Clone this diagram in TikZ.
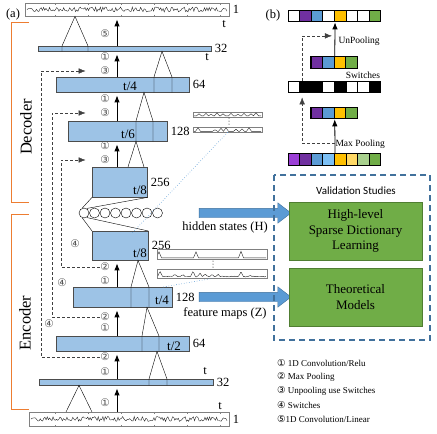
\documentclass[tikz,border=0pt]{standalone}
\usepackage{fontspec}
\setmainfont{Liberation Serif}
\newfontfamily\circfont{DejaVu Sans}
\newfontfamily\valfont{Carlito}
\usepackage{xcolor}
\usetikzlibrary{arrows.meta}
\usetikzlibrary{shapes.arrows}
\usetikzlibrary{calc}
\newcommand{\cn}[1]{{\circfont\fontsize{9.5}{9.5}\selectfont #1}}
\definecolor{layblue}{HTML}{9DC3E6}
\definecolor{arrblue}{HTML}{5B9BD5}
\definecolor{arredge}{HTML}{41719C}
\definecolor{boxgreen}{HTML}{70AD47}
\definecolor{greenedge}{HTML}{507E32}
\definecolor{brkorange}{HTML}{ED7D31}
\definecolor{cviolet}{HTML}{9B3FD6}
\definecolor{cpurple}{HTML}{7030A0}
\definecolor{cblue}{HTML}{5B9BD5}
\definecolor{clblue}{HTML}{7CC0F5}
\definecolor{cyellow}{HTML}{FFC000}
\definecolor{clyellow}{HTML}{FFD966}
\definecolor{clgreen}{HTML}{A9D18E}
\definecolor{cgreen}{HTML}{70AD47}

\begin{document}
\begin{tikzpicture}[x=1pt, y=-1pt, font=\fontsize{12.5}{15}\selectfont,
      >={Latex[length=7pt,width=5.5pt]},
      declare function={bp(\u,\w)=max(0,1-abs(\u-\w)/2.5);},
      lay/.style={draw=black!70, fill=layblue, inner sep=0pt, anchor=north west},
      sigbox/.style={draw=black!50, inner sep=0pt, anchor=north west},
      sig/.style={black!85, line width=0.4pt},
      num/.style={inner sep=0.5pt, text=black!70, font=\circfont\fontsize{10.5}{10.5}\selectfont},
      up/.style={->, line width=0.9pt, shorten >=3pt},
      sw/.style={->, black!75, dash pattern=on 3pt off 2pt},
      cell/.style={draw, line width=1.1pt, minimum size=11.6pt, inner sep=0pt},
      bigarrow/.style={single arrow, draw=arredge, fill=arrblue, minimum height=92pt,
        inner xsep=0pt, inner ysep=4.5pt, single arrow head extend=5.5pt, single arrow tip angle=75},
      studybox/.style={draw=greenedge, fill=boxgreen, line width=0.8pt, minimum width=133pt,
        minimum height=58pt, align=center, font=\fontsize{13}{15.5}\selectfont},
      lg/.style={anchor=west, inner sep=0pt, font=\fontsize{9}{11}\selectfont}]
      \useasboundingbox (0,0) rectangle (437,434);

      \node[sigbox, minimum width=204pt, minimum height=13pt] (sd) at (25,3) {};
      \node[sigbox, minimum width=200pt, minimum height=14pt] (se) at (29,412) {};
      \pgfmathsetseed{11}
      \draw[sig] plot[domain=27:227, samples=170] (\x,{9.5+2.5*rand});
      \pgfmathsetseed{11}
      \draw[sig] plot[domain=31:227, samples=170] (\x,{419+2.5*rand});
      \foreach \x in {55,88,...,220}
        \draw[black!50] (\x,0 |- sd.north) -- ++(0,1.5) (\x,0 |- sd.south) -- ++(0,-1.5)
          (\x,0 |- se.north) -- ++(0,1.5) (\x,0 |- se.south) -- ++(0,-1.5);
      \node at (13,14) {(a)};
      \node[right] at (sd.east) {1};
      \node[right] at (se.east) {1};
      \node at (224,24) {t};
      \node at (220,406) {t};

      \node[lay, minimum width=173pt, minimum height=5pt] (d32) at (38,46) {};
      \node[lay, minimum width=133pt, minimum height=15pt] (d64) at (56,77) {};
      \node[lay, minimum width=99pt, minimum height=20pt] (d128) at (68,121) {};
      \node[lay, minimum width=55pt, minimum height=30pt] (d256) at (92,167) {};
      \node[lay, minimum width=56pt, minimum height=29pt] (e256) at (92,231) {};
      \node[lay, minimum width=99pt, minimum height=20pt] (e128) at (73,287) {};
      \node[lay, minimum width=133pt, minimum height=15pt] (e64) at (56,336) {};
      \node[lay, minimum width=174pt, minimum height=6pt] (e32) at (39,379) {};
      \foreach \n/\t in {d32/32, d64/64, d128/128, d256/256, e256/256, e128/128, e64/64, e32/32}
        \node[right] at (\n.east) {\t};
      \node at (207,57) {t};
      \node at (205,371) {t};
      \node[font=\fontsize{13}{15}\selectfont] at (130,86) {t/4};
      \node[font=\fontsize{13}{15}\selectfont] at (128,134) {t/6};
      \node[font=\fontsize{13}{15}\selectfont] at (140,190) {t/8};
      \node[font=\fontsize{13}{15}\selectfont] at (140,253) {t/8};
      \node[font=\fontsize{13}{15}\selectfont] at (162,300) {t/4};
      \node[font=\fontsize{13}{15}\selectfont] at (174,346) {t/2};

      \foreach \i in {1,...,8}
        \node[draw, circle, minimum size=10pt, inner sep=0pt] (c\i) at ({73.5+10.5*\i},213) {};
      \draw (c1.110) -- (d256.south west) (c1.60) -- (d256.south east);
      \draw (c1.-110) -- (e256.north west) (c1.-60) -- (e256.north east);

      \foreach \lx/\ax/\rx/\hi/\lo/\v in {62/75/88/sd/d32/south, 154/162/172/d32/d64/south,
          136/144/153/d64/d128/south, 128/136/144/d128/d256/north,
          131/138/149/e256/e128/south, 142/147/159/e128/e64/south,
          149/157/167/e64/e32/south, 66/79/92/e32/se/north}
        \draw (\lx,0 |- \lo.\v) -- (\lx,0 |- \lo.north) -- (\ax,0 |- \hi.south)
          -- (\rx,0 |- \lo.north) -- (\rx,0 |- \lo.\v);
      \foreach \lo/\hi in {se/e32, e32/e64, e64/e128, e128/e256, d256/d128, d128/d64, d64/d32, d32/sd}
        \draw[up] (117,0 |- \lo.north) -- (117,0 |- \hi.south);

      \node[num] (k5) at (105,34) {⑤};
      \node[num] at (105,57) {①};
      \node[num] (u1) at (105,71) {③};
      \node[num] at (105,99) {①};
      \node[num] (u2) at (105,113) {③};
      \node[num] at (105,146) {①};
      \node[num] (u3) at (105,160) {③};
      \node[num] (p3) at (105,267) {②};
      \node[num] at (105,281) {①};
      \node[num] (p2) at (105,317) {②};
      \node[num] at (105,328) {①};
      \node[num] (p1) at (105,357) {②};
      \node[num] at (105,372) {①};
      \node[num] at (105,403) {①};
      \node[num] at (75,244) {④};
      \node[num] at (62,283) {④};
      \node[num] at (49,324) {④};
      \draw[sw, shorten >=14pt] (p1.west) -- (41,0 |- p1) |- (u1.west);
      \draw[sw, shorten >=14pt] (p2.west) -- (52,0 |- p2) |- (u2.west);
      \draw[sw, shorten >=14pt] (p3.west) -- (61,0 |- p3) |- (u3.west);

      \draw[brkorange, line width=0.9pt] (29,22) -| (11,202) -- (29,202);
      \draw[brkorange, line width=0.9pt] (29,214) -| (11,409) -- (29,409);
      \node[rotate=90, font=\fontsize{16.5}{18}\selectfont] at (26,127) {Decoder};
      \node[rotate=90, font=\fontsize{16.5}{18}\selectfont] at (25,323) {Encoder};

      \node[sigbox, minimum width=69pt, minimum height=4.5pt] (fa) at (193,112) {};
      \node[sigbox, minimum width=69pt, minimum height=4.5pt] (fb) at (193,127.3) {};
      \node[sigbox, minimum width=110pt, minimum height=10pt] (fc) at (157,249) {};
      \node[sigbox, minimum width=110pt, minimum height=9pt] (fd) at (157,269) {};
      \draw[sig] plot[domain=194:261, samples=135] (\x,{115.8-2*bp(\x,199)-2.5*bp(\x,206)
        -1.5*bp(\x,211)-3*bp(\x,217)-2*bp(\x,223)-2.5*bp(\x,231)-1.5*bp(\x,238)
        -2.5*bp(\x,244)-2*bp(\x,251)-3*bp(\x,256)});
      \draw[sig] plot[domain=194:261, samples=135] (\x,{131.3-3.5*bp(\x,198)-1.5*bp(\x,215)
        -3*bp(\x,221)-3.5*bp(\x,226)-2*bp(\x,236)-2.5*bp(\x,242)-3.5*bp(\x,249)});
      \draw[sig] plot[domain=158:266, samples=217] (\x,{257.8-6*bp(\x,159)-6*bp(\x,196)
        -6.5*bp(\x,241)});
      \pgfmathsetseed{4}
      \draw[sig] plot[domain=158:266, samples=150] (\x,{276.5+0.4*rand-5*bp(\x,160)
        -2*bp(\x,175)-1.5*bp(\x,183)-5*bp(\x,193)-3*bp(\x,200)-2.5*bp(\x,205)
        -2*bp(\x,212)-2*bp(\x,218)-5*bp(\x,241)-1*bp(\x,250)});
      \foreach \y in {118,121,124} \fill (229,\y) circle (0.5);
      \foreach \y in {261,264,267} \fill (213,\y) circle (0.5);
      \draw[arrblue, dotted, line width=0.6pt] (fb.south) -- ([xshift=12pt, yshift=-2pt]e256.north);
      \draw[arrblue, dotted, line width=0.6pt] ([xshift=-9pt]e128.north east) -- (fd.south);

      \node[bigarrow] (ha) at (242,213) {};
      \node (hl) at (225,227.5) {hidden states (H)};
      \node[bigarrow] (za) at (242,297) {};
      \node (zl) at (225,313) {feature maps (Z)};
      \draw[arredge, line width=1.1pt, dash pattern=on 6pt off 4pt] (274,175) rectangle (430,340);
      \node[font=\valfont\fontsize{11}{13}\selectfont] at (356,191) {Validation Studies};
      \node[studybox] (hsd) at (355.5,231) {High-level\\Sparse Dictionary\\Learning};
      \node[studybox] (thm) at (355.5,297) {Theoretical\\Models};

      \node at (273,15) {(b)};
      \foreach \c [count=\i] in {white,cpurple,cblue,white,cyellow,white,white,cgreen}
        \node[cell, fill=\c] (t\i) at ({282.3+11.6*\i},16) {};
      \foreach \c [count=\i] in {cpurple,cblue,cyellow,cgreen}
        \node[cell, fill=\c] (n\i) at ({305.2+11.6*\i},62.5) {};
      \foreach \c [count=\i] in {white,black,black,white,black,white,white,black}
        \node[cell, fill=\c] (s\i) at ({282.3+11.6*\i},87) {};
      \foreach \c [count=\i] in {cpurple,cblue,cyellow,cgreen}
        \node[cell, fill=\c] (m\i) at ({305.2+11.6*\i},113) {};
      \foreach \c [count=\i] in {cviolet,cpurple,cblue,clblue,cyellow,clyellow,clgreen,cgreen}
        \node[cell, fill=\c] (b\i) at ({282.3+11.6*\i},159.5) {};
      \draw[->, line width=0.8pt] (b4.north east) -- (m2.south east);
      \draw[->, line width=0.8pt] (n2.north east) -- (t4.south east);
      \draw[sw, shorten >=4pt] ($(b4.north east)!.3!(m2.south east)$) -| ([xshift=3pt]s2.south west);
      \draw[sw, shorten >=3pt] ([xshift=3pt]s2.north west) |- ($(n2.north east)!.6!(t4.south east)$);
      \node[right, font=\fontsize{9.5}{11}\selectfont] at (335,41) {UnPooling};
      \node[font=\fontsize{9.5}{11}\selectfont] at (363,75.5) {Switches};
      \node[right, font=\fontsize{9.5}{11}\selectfont] at (332,144) {Max Pooling};

      \node[lg] at (277,363) {\cn{①} 1D Convolution/Relu};
      \node[lg] at (277,377) {\cn{②} Max Pooling};
      \node[lg] at (277,391) {\cn{③} Unpooling use Switches};
      \node[lg] at (277,405) {\cn{④} Switches};
      \node[lg] at (277,419) {\cn{⑤}1D Convolution/Linear};
    \end{tikzpicture}
\end{document}
